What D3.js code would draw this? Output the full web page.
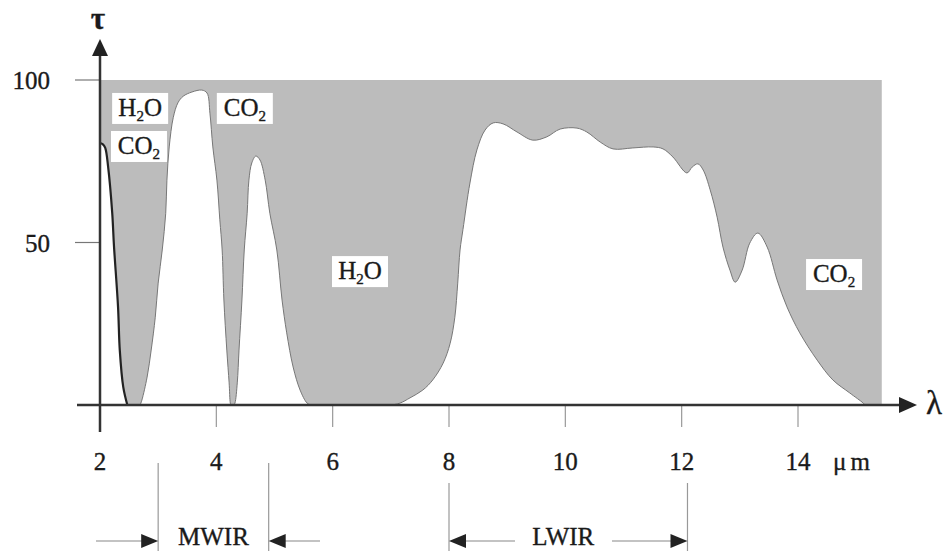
<!DOCTYPE html>
<html>
<head>
<meta charset="utf-8">
<script src="https://cdn.jsdelivr.net/npm/d3@7"></script>
<style>
  body { margin: 0; background: #fff; }
  text { font-family: "Liberation Serif", "Times New Roman", serif; fill: #1a1a1a; stroke: #1a1a1a; stroke-width: 0.35px; }
</style>
</head>
<body>
<div id="chart"></div>
<script>
// transmission windows [lambda (um), tau (%)]
const band1 = [[2.00,80.6],[2.05,80.2],[2.09,79.1],[2.14,73.2],[2.21,59.1],[2.24,49],[2.31,30.2],[2.34,16.9],[2.40,5.5],[2.47,0]];
const band2 = [[2.69,0],[2.72,1.5],[2.81,8.6],[2.88,16.9],[2.95,27],[3.00,37.5],[3.07,47.7],[3.13,59],[3.15,69],[3.19,79.4],[3.26,88.5],[3.34,93],[3.43,95],[3.58,96.3],[3.75,96.9],[3.84,96],[3.89,89.8],[3.94,79.4],[4.01,69.2],[4.06,57],[4.10,47.7],[4.13,32.3],[4.18,16.9],[4.22,6.8],[4.24,0.6],[4.25,0]];
const band3 = [[4.30,0],[4.32,0.6],[4.36,6.8],[4.39,16.9],[4.44,32.3],[4.48,47.7],[4.53,59],[4.56,69.2],[4.61,74.5],[4.68,76.6],[4.75,75.4],[4.84,69.2],[4.92,59],[5.04,47.7],[5.13,32.3],[5.21,22.2],[5.32,11.7],[5.44,4.6],[5.56,0.6],[5.63,0]];
const band4 = [[7.02,0],[7.16,0.6],[7.33,2.2],[7.55,4.6],[7.72,7.7],[7.90,12.9],[8.02,19],[8.10,27],[8.15,37.5],[8.19,47.7],[8.24,54],[8.36,68.3],[8.48,78.5],[8.62,84.6],[8.76,86.8],[8.93,86.5],[9.17,84],[9.44,81.5],[9.68,82.5],[9.91,84.9],[10.20,85.2],[10.37,84],[10.60,80.9],[10.82,78.8],[11.16,79.1],[11.51,79.4],[11.68,78.8],[11.85,76.3],[12.09,71.4],[12.18,73.2],[12.28,74.2],[12.37,72.3],[12.49,66.2],[12.61,57.8],[12.71,48.6],[12.83,41.5],[12.92,37.8],[13.04,41.5],[13.17,49.8],[13.31,52.9],[13.47,48.6],[13.64,38.5],[13.81,30.2],[14.03,22.2],[14.33,13.8],[14.60,7.7],[14.89,3.7],[15.12,0.6],[15.15,0]];

const xTicks = [2, 4, 6, 8, 10, 12, 14];
const yTicks = [50, 100];
const spectrumEnd = 15.44;

// absorber labels
const gasNames = ["H2O", "CO2", "CO2", "H2O", "CO2"];
const gasLambda = [2.69, 2.67, 4.49, 6.47, 14.62];
const gasTau = [91.4, 79.7, 91.4, 41.2, 40.3];

// IR bands
const bandNames = ["MWIR", "LWIR"];
const bandFrom = [3.0, 8.0];
const bandTo = [4.9, 12.1];

const width = 948, height = 551;

const svg = d3.select("#chart")
  .append("svg")
  .attr("width", width)
  .attr("height", height);

const x = d3.scaleLinear().domain([2, 14]).range([100, 798]);
const y = d3.scaleLinear().domain([0, 100]).range([405, 80]);

// grey absorption background
svg.append("rect")
  .attr("x", x(2))
  .attr("y", y(100))
  .attr("width", x(spectrumEnd) - x(2))
  .attr("height", y(0) - y(100))
  .attr("fill", "#bcbcbc");

let area = d3.area()
  .x(d => x(d[0]))
  .y0(y(0))
  .y1(d => y(d[1]))
  .curve(d3.curveCatmullRom.alpha(0.5));

let line = d3.line()
  .x(d => x(d[0]))
  .y(d => y(d[1]))
  .curve(d3.curveCatmullRom.alpha(0.5));

const bands = [band1, band2, band3, band4];

svg.selectAll(".win")
  .data(bands)
  .join("path")
  .attr("class", "win")
  .attr("d", area)
  .attr("fill", "#fff");

svg.selectAll(".edge")
  .data(bands)
  .join("path")
  .attr("class", "edge")
  .attr("d", line)
  .attr("fill", "none")
  .attr("stroke", (d, i) => i === 0 ? "#222" : "#777")
  .attr("stroke-width", (d, i) => i === 0 ? 2.2 : 1);

// ticks
svg.selectAll(".xtick")
  .data(xTicks.slice(1))
  .join("line")
  .attr("x1", d => x(d)).attr("x2", d => x(d))
  .attr("y1", y(0)).attr("y2", y(0) + 22)
  .attr("stroke", "#999").attr("stroke-width", 1.2);

svg.selectAll(".ytick")
  .data(yTicks)
  .join("line")
  .attr("x1", x(2) - 25).attr("x2", x(2))
  .attr("y1", d => y(d)).attr("y2", d => y(d))
  .attr("stroke", "#777").attr("stroke-width", 1.2);

svg.selectAll(".xlab")
  .data(xTicks)
  .join("text")
  .attr("x", d => x(d))
  .attr("y", 470)
  .attr("text-anchor", "middle")
  .attr("font-size", 25)
  .text(d => d);

svg.append("text")
  .attr("x", 833).attr("y", 470)
  .attr("font-size", 25)
  .attr("letter-spacing", 4)
  .text("\u03bcm");

svg.selectAll(".ylab")
  .data(yTicks)
  .join("text")
  .attr("x", 50)
  .attr("y", d => y(d) + 9)
  .attr("text-anchor", "end")
  .attr("font-size", 25)
  .text(d => d);

// axes with arrows
svg.append("line")
  .attr("x1", 77).attr("x2", 905)
  .attr("y1", y(0)).attr("y2", y(0))
  .attr("stroke", "#333").attr("stroke-width", 2.5);
svg.append("path")
  .attr("d", `M917,${y(0)} L899,${y(0) - 8} L899,${y(0) + 8} Z`)
  .attr("fill", "#222");

svg.append("line")
  .attr("x1", x(2)).attr("x2", x(2))
  .attr("y1", 432).attr("y2", 52)
  .attr("stroke", "#333").attr("stroke-width", 2.5);
svg.append("path")
  .attr("d", `M${x(2)},39 L${x(2) - 8},56 L${x(2) + 8},56 Z`)
  .attr("fill", "#222");

svg.append("text")
  .attr("x", x(2) - 2).attr("y", 29)
  .attr("text-anchor", "middle")
  .attr("font-size", 31)
  .attr("font-weight", "bold")
  .text("\u03c4");

svg.append("text")
  .attr("x", 934).attr("y", 414)
  .attr("text-anchor", "middle")
  .attr("font-size", 33)
  .text("\u03bb");

// gas labels on white boxes
gasNames.forEach((name, i) => {
  let cx = x(gasLambda[i]), cy = y(gasTau[i]);
  svg.append("rect")
    .attr("x", cx - 28).attr("y", cy - 15)
    .attr("width", 56).attr("height", 31)
    .attr("fill", "#fff");
  let t = svg.append("text")
    .attr("x", cx).attr("y", cy + 8)
    .attr("text-anchor", "middle")
    .attr("font-size", 25);
  t.append("tspan").text(name[0] === "H" ? "H" : "CO");
  t.append("tspan").attr("font-size", 15).attr("dy", 5).text("2");
  if (name[0] === "H") t.append("tspan").attr("dy", -5).text("O");
});

// MWIR / LWIR markers
const ay = 541;
function arrowHead(px, dir) {
  // dir: 1 points right, -1 points left
  return `M${px},${ay} L${px - dir * 17},${ay - 7} L${px - dir * 17},${ay + 7} Z`;
}

bandNames.forEach((name, i) => {
  let a = x(bandFrom[i]), b = x(bandTo[i]);
  let top = i === 0 ? 463 : 483;
  [a, b].forEach(px => {
    svg.append("line")
      .attr("x1", px).attr("x2", px)
      .attr("y1", top).attr("y2", height)
      .attr("stroke", "#999").attr("stroke-width", 1.2);
  });
  svg.append("text")
    .attr("x", (a + b) / 2 + (i === 0 ? 0 : -5))
    .attr("y", 545)
    .attr("text-anchor", "middle")
    .attr("font-size", 25)
    .text(name);
});

// MWIR: arrows from outside pointing in
let m0 = x(bandFrom[0]), m1 = x(bandTo[0]);
svg.append("line").attr("x1", 96).attr("x2", m0 - 10).attr("y1", ay).attr("y2", ay)
  .attr("stroke", "#888").attr("stroke-width", 1.2);
svg.append("path").attr("d", arrowHead(m0, 1)).attr("fill", "#222");
svg.append("line").attr("x1", m1 + 10).attr("x2", 320).attr("y1", ay).attr("y2", ay)
  .attr("stroke", "#888").attr("stroke-width", 1.2);
svg.append("path").attr("d", arrowHead(m1, -1)).attr("fill", "#222");

// LWIR: arrows from inside pointing out
let l0 = x(bandFrom[1]), l1 = x(bandTo[1]);
svg.append("line").attr("x1", l0 + 10).attr("x2", 515).attr("y1", ay).attr("y2", ay)
  .attr("stroke", "#888").attr("stroke-width", 1.2);
svg.append("path").attr("d", arrowHead(l0, -1)).attr("fill", "#222");
svg.append("line").attr("x1", 612).attr("x2", l1 - 10).attr("y1", ay).attr("y2", ay)
  .attr("stroke", "#888").attr("stroke-width", 1.2);
svg.append("path").attr("d", arrowHead(l1, 1)).attr("fill", "#222");
</script>
</body>
</html>
